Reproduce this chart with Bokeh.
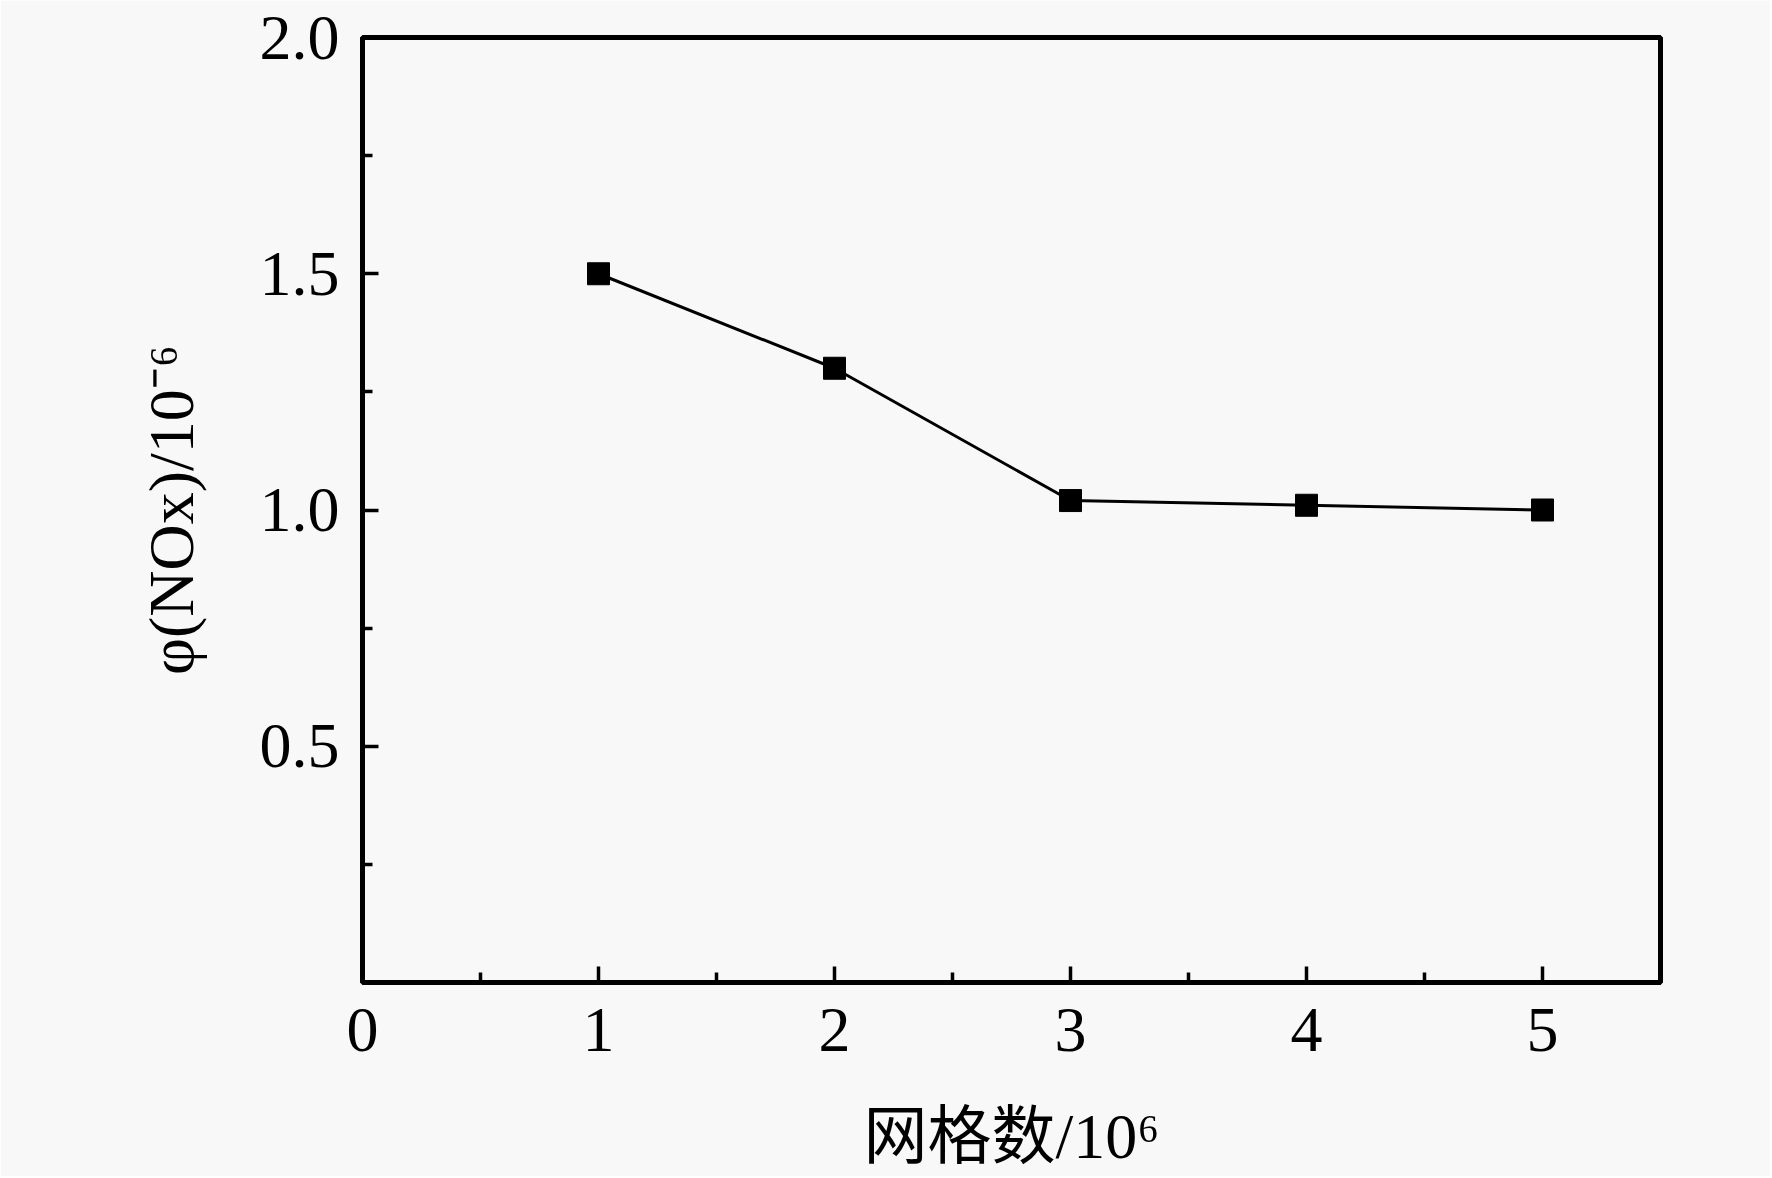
from bokeh.plotting import figure
from bokeh.models import Range1d, FixedTicker, PrintfTickFormatter
from bokeh.embed import file_html
from bokeh.resources import INLINE

# ---- data ----
grid_counts = [1, 2, 3, 4, 5]          # 网格数 / 10^6
nox_values = [1.50, 1.30, 1.02, 1.01, 1.00]  # φ(NOx) / 10^-6

x_major_ticks = [0, 1, 2, 3, 4, 5]
x_minor_ticks = [0.5, 1.5, 2.5, 3.5, 4.5]
y_major_ticks = [0.5, 1.0, 1.5, 2.0]
y_minor_ticks = [0.25, 0.75, 1.25, 1.75]

x_label = "网格数/10⁶"
y_label = "φ(NOx)/10⁻⁶"

BG = "#f8f8f8"
SERIF = "Liberation Serif"
CJK = "Liberation Serif, Noto Sans CJK SC"

p = figure(
    width=1770, height=1176,
    x_range=Range1d(0, 5.5), y_range=Range1d(0, 2.0),
    output_backend="svg", toolbar_location=None,
    min_border_left=362, min_border_right=110,
    min_border_top=37, min_border_bottom=194,
    background_fill_color=BG, border_fill_color=BG,
)
p.grid.visible = False
p.outline_line_color = "black"
p.outline_line_width = 5

p.line(grid_counts, nox_values, line_color="black", line_width=3)
p.scatter(grid_counts, nox_values, marker="square", size=22,
          fill_color="black", line_color="black")

for ax in (p.xaxis[0], p.yaxis[0]):
    ax.axis_line_width = 5
    ax.axis_line_color = "black"
    ax.major_tick_in = 16
    ax.major_tick_out = 0
    ax.minor_tick_in = 10
    ax.minor_tick_out = 0
    ax.major_tick_line_width = 3.5
    ax.minor_tick_line_width = 3.5
    ax.major_tick_line_color = "black"
    ax.minor_tick_line_color = "black"
    ax.major_label_text_font = SERIF
    ax.major_label_text_font_size = "64px"
    ax.major_label_text_color = "black"
    ax.axis_label_text_font_size = "64px"
    ax.axis_label_text_font_style = "normal"
    ax.axis_label_text_color = "black"

p.xaxis[0].ticker = FixedTicker(ticks=x_major_ticks, minor_ticks=x_minor_ticks)
p.yaxis[0].ticker = FixedTicker(ticks=y_major_ticks, minor_ticks=y_minor_ticks)
p.yaxis[0].formatter = PrintfTickFormatter(format="%.1f")

p.xaxis[0].axis_label = x_label
p.xaxis[0].axis_label_text_font = CJK
p.xaxis[0].major_label_standoff = 26
p.xaxis[0].axis_label_standoff = 47

p.yaxis[0].axis_label = y_label
p.yaxis[0].axis_label_text_font = SERIF
p.yaxis[0].major_label_standoff = 23
p.yaxis[0].axis_label_standoff = 50

html = file_html(p, INLINE)
html = html.replace("<body>", '<body style="background:%s">' % BG, 1)
open("out.html", "w").write(html)
